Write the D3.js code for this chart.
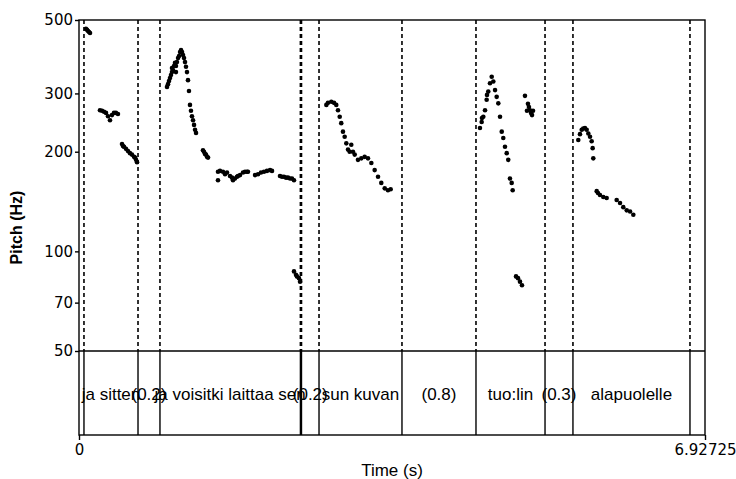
<!DOCTYPE html>
<html>
<head>
<meta charset="utf-8">
<script src="https://cdn.jsdelivr.net/npm/d3@7"></script>
<style>
body { margin: 0; background: #fff; }
</style>
</head>
<body>
<svg></svg>
<script>
// pitch track (s, Hz)
let pitchTimes = [
    0.077, 0.089, 0.100, 0.111, 0.122,
    0.232, 0.255, 0.277, 0.299, 0.321, 0.343, 0.365, 0.387, 0.409, 0.431,
    0.476, 0.487, 0.498, 0.520, 0.542, 0.564, 0.586, 0.609, 0.620, 0.631, 0.642,
    0.974, 0.985, 0.996, 1.007, 1.018, 1.029, 1.029, 1.040, 1.051, 1.062, 1.073, 1.073, 1.084, 1.096, 1.107,
    1.118, 1.129, 1.140, 1.151, 1.162, 1.173, 1.184, 1.195, 1.206, 1.217, 1.228, 1.239, 1.250, 1.262,
    1.273, 1.284, 1.295,
    1.372, 1.383, 1.394, 1.405, 1.416, 1.428,
    1.538, 1.538, 1.560, 1.593, 1.616, 1.638, 1.671, 1.693, 1.704, 1.726, 1.748, 1.759, 1.782, 1.815, 1.837, 1.859, 1.870,
    1.948, 1.981, 2.014, 2.047, 2.080, 2.114, 2.136,
    2.224, 2.246, 2.268, 2.291, 2.313, 2.335, 2.357, 2.379,
    2.379, 2.401, 2.412, 2.434, 2.446,
    2.737, 2.755, 2.792, 2.822, 2.847, 2.866, 2.885, 2.902, 2.921, 2.940, 2.958, 2.977, 2.995, 3.013,
    3.032, 3.051, 3.087, 3.124, 3.161, 3.198, 3.235, 3.272, 3.309, 3.345, 3.383, 3.419, 3.449,
    4.437, 4.456, 4.459, 4.474, 4.493, 4.511, 4.515, 4.529, 4.548, 4.567, 4.585, 4.604, 4.622, 4.640,
    4.659, 4.678, 4.695, 4.714, 4.733, 4.750, 4.769, 4.788, 4.799,
    4.836, 4.858, 4.880, 4.902,
    4.935, 4.957, 4.968, 4.979, 4.990, 5.002, 5.013, 5.024,
    5.525, 5.544, 5.563, 5.580, 5.599, 5.618, 5.636, 5.655, 5.673, 5.684, 5.691,
    5.729, 5.743, 5.765, 5.802, 5.839, 5.950, 5.987, 6.023, 6.061, 6.098, 6.134
]
let pitchHz = [
    470, 467, 463, 460, 457,
    267, 266, 264, 262, 256, 249, 258, 262, 262, 260,
    211, 208, 207, 204, 201, 198, 196, 193, 192, 189, 186,
    314, 320, 327, 334, 341, 348, 358, 353, 363, 371, 363, 348, 373, 384, 389,
    400, 406, 400, 392, 384, 373, 361, 348, 329, 305, 277, 266, 256, 249,
    241, 233, 228,
    202, 200, 197, 196, 193, 192,
    174, 164, 175, 174, 171, 173, 169, 167, 164, 166, 168, 169, 170, 173, 174, 174, 174,
    170, 171, 173, 174, 175, 176, 175,
    169, 168, 168, 167, 167, 166, 166, 164,
    87, 85, 84, 83, 81,
    277, 281, 283, 281, 277, 267, 255, 244, 230, 222, 212, 203, 200, 210,
    200, 196, 189, 191, 193, 191, 185, 176, 168, 161, 155, 153, 154,
    236, 246, 253, 255, 267, 287, 297, 304, 322, 337, 326, 307, 293, 280,
    255, 230, 220, 207, 198, 189, 166, 161, 153,
    84, 83, 81, 79,
    295, 266, 279, 273, 267, 262, 258, 266,
    217, 226, 233, 235, 236, 233, 227, 222, 215, 205, 191,
    152, 150, 148, 146, 145, 143, 140, 136, 133, 132, 129
]

// text tier
let tierBounds = [0, 0.055, 0.653, 0.896, 2.450, 2.462, 2.656, 3.574, 4.393, 5.157, 5.466, 6.761, 6.92725]
let tierLabels = ['', 'ja sitten', '(0.2)', 'ja voisitki laittaa sen', '', '(0.2)', 'sun kuvan', '(0.8)', 'tuo:lin', '(0.3)', 'alapuolelle', '']

let yTicks = [50, 70, 100, 200, 300, 500]
let xTicks = [0, 6.92725]

let width = 736
let height = 479
let plotLeft = 79
let plotRight = 705
let plotTop = 20
let pitchBottom = 351
let tierBottom = 435

let svg = d3.select('svg')
    .attr('width', width)
    .attr('height', height)
    .style('font-family', 'Liberation Sans, Arial, sans-serif')

svg.append('rect').attr('width', width).attr('height', height).attr('fill', '#fff')

let xScale = d3.scaleLinear()
    .domain([0, 6.92725])
    .range([plotLeft, plotRight])

let yScale = d3.scaleLog()
    .domain([50, 500])
    .range([pitchBottom, plotTop])

let inner = tierBounds.slice(1, -1)

// dashed boundary lines through the pitch area
svg.append('g')
    .selectAll('line')
    .data(inner)
    .enter()
    .append('line')
    .attr('x1', d => xScale(d))
    .attr('x2', d => xScale(d))
    .attr('y1', plotTop)
    .attr('y2', pitchBottom)
    .attr('stroke', '#000')
    .attr('stroke-width', 1.6)
    .attr('stroke-dasharray', '4,3')

// solid boundaries in the tier
svg.append('g')
    .selectAll('line')
    .data(inner)
    .enter()
    .append('line')
    .attr('x1', d => xScale(d))
    .attr('x2', d => xScale(d))
    .attr('y1', pitchBottom)
    .attr('y2', tierBottom)
    .attr('stroke', '#000')
    .attr('stroke-width', 1.4)

// frame
svg.append('rect')
    .attr('x', plotLeft)
    .attr('y', plotTop)
    .attr('width', plotRight - plotLeft)
    .attr('height', tierBottom - plotTop)
    .attr('fill', 'none')
    .attr('stroke', '#000')
    .attr('stroke-width', 1.4)

svg.append('line')
    .attr('x1', plotLeft).attr('x2', plotRight)
    .attr('y1', pitchBottom).attr('y2', pitchBottom)
    .attr('stroke', '#000')
    .attr('stroke-width', 1.4)

// tier labels (they overlap in the original too)
let intervals = tierLabels.map((t, i) => ({ text: t, a: tierBounds[i], b: tierBounds[i + 1] }))
svg.append('g')
    .selectAll('text')
    .data(intervals)
    .enter()
    .append('text')
    .attr('x', d => (xScale(d.a) + xScale(d.b)) / 2)
    .attr('y', 400)
    .attr('text-anchor', 'middle')
    .attr('font-size', 17)
    .attr('fill', '#000')
    .text(d => d.text)

// pitch points
let points = pitchTimes.map((t, i) => [t, pitchHz[i]])
svg.append('g')
    .selectAll('circle')
    .data(points)
    .enter()
    .append('circle')
    .attr('cx', d => xScale(d[0]))
    .attr('cy', d => yScale(d[1]))
    .attr('r', 2.3)
    .attr('fill', '#000')

// axes
let yAxis = d3.axisLeft(yScale)
    .tickValues(yTicks)
    .tickSize(4)
    .tickPadding(2)
    .tickFormat(d3.format('d'))

let gy = svg.append('g')
    .attr('transform', 'translate(' + plotLeft + ',0)')
    .call(yAxis)
gy.select('.domain').remove()
gy.selectAll('line').attr('stroke-width', 1.4)
gy.selectAll('text')
    .attr('font-family', 'DejaVu Sans, sans-serif')
    .attr('font-size', 15)
    .attr('fill', '#000')

let xAxis = d3.axisBottom(xScale)
    .tickValues(xTicks)
    .tickSize(5)
    .tickPadding(4)
    .tickFormat(d => d === 0 ? '0' : '6.92725')

let gx = svg.append('g')
    .attr('transform', 'translate(0,' + tierBottom + ')')
    .call(xAxis)
gx.select('.domain').remove()
gx.selectAll('line').attr('stroke-width', 1.4)
gx.selectAll('text')
    .attr('font-family', 'DejaVu Sans, sans-serif')
    .attr('font-size', 15)
    .attr('fill', '#000')

svg.append('text')
    .attr('x', (plotLeft + plotRight) / 2)
    .attr('y', 476)
    .attr('text-anchor', 'middle')
    .attr('font-size', 17)
    .text('Time (s)')

svg.append('text')
    .attr('transform', 'translate(22,' + ((plotTop + tierBottom) / 2) + ') rotate(-90)')
    .attr('text-anchor', 'middle')
    .attr('font-size', 16)
    .attr('font-weight', 'bold')
    .text('Pitch (Hz)')
</script>
</body>
</html>
